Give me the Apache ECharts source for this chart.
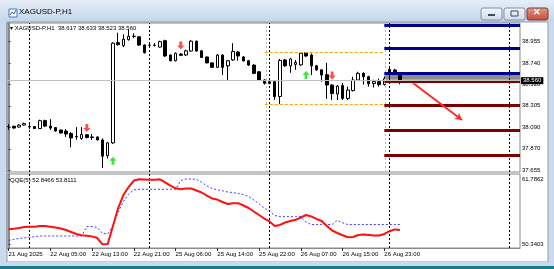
<!DOCTYPE html>
<html><head><meta charset="utf-8">
<script src="https://cdn.jsdelivr.net/npm/echarts@6/dist/echarts.min.js"></script>
<style>html,body{margin:0;padding:0;background:#c9daee;}#c{width:554px;height:269px;}</style>
</head><body><div id="c"></div>
<script>
// ---- data ----
const timeLabels = ['21 Aug 2025','22 Aug 05:00','22 Aug 13:00','22 Aug 21:00','25 Aug 06:00','25 Aug 14:00','25 Aug 22:00','26 Aug 07:00','26 Aug 15:00','26 Aug 23:00'];
const timeLabelIdx = [0,8,16,24,32,40,48,56,64,72];
const priceTicks = [38.955,38.740,38.520,38.305,38.090,37.870,37.655];
const qqeTicks = [61.7862,50.3403];

const opens  = [38.095,38.098,38.090,38.110,38.095,38.095,38.075,38.155,38.100,38.085,38.060,38.050,38.025,37.990,37.975,38.012,37.990,37.990,37.960,37.800,37.930,38.945,38.915,38.975,39.010,39.004,38.921,38.920,38.918,38.900,38.965,38.820,38.762,38.830,38.820,38.860,38.960,38.862,38.800,38.740,38.695,38.820,38.710,38.770,38.850,38.800,38.762,38.718,38.650,38.566,38.530,38.550,38.400,38.770,38.710,38.725,38.720,38.845,38.820,38.710,38.670,38.620,38.516,38.425,38.510,38.380,38.460,38.566,38.634,38.600,38.530,38.550,38.520,38.635,38.668,38.617];
const highs  = [38.120,38.105,38.120,38.135,38.120,38.100,38.165,38.165,38.170,38.090,38.065,38.070,38.040,38.090,38.090,38.020,38.020,37.995,37.975,37.940,38.950,39.046,39.030,39.080,39.040,39.010,38.930,38.930,38.940,38.965,38.975,38.825,38.845,38.840,38.875,38.970,38.965,38.870,38.805,38.745,38.830,38.825,38.770,38.940,38.860,38.810,38.770,38.725,38.655,38.575,38.560,38.560,38.780,38.780,38.790,38.770,38.850,38.850,38.835,38.720,38.675,38.740,38.525,38.516,38.535,38.500,38.600,38.650,38.645,38.610,38.570,38.580,38.600,38.690,38.680,38.633];
const lows   = [38.062,38.075,38.085,38.105,38.070,38.070,38.070,38.090,38.060,38.045,38.025,37.990,37.885,37.960,37.960,37.975,37.960,37.955,37.675,37.770,37.920,38.915,38.900,38.965,38.990,38.910,38.835,38.910,38.905,38.895,38.800,38.755,38.755,38.810,38.810,38.855,38.855,38.790,38.735,38.690,38.690,38.617,38.566,38.760,38.762,38.755,38.710,38.625,38.560,38.520,38.525,38.364,38.324,38.700,38.640,38.670,38.710,38.800,38.617,38.660,38.550,38.375,38.364,38.364,38.364,38.364,38.450,38.560,38.520,38.500,38.490,38.500,38.510,38.560,38.620,38.523];
const closes = [38.093,38.080,38.110,38.125,38.092,38.075,38.155,38.100,38.080,38.050,38.030,38.020,37.980,37.995,38.015,37.985,37.985,37.960,37.795,37.930,38.940,38.925,38.980,39.010,39.008,38.921,38.843,38.918,38.921,38.955,38.810,38.762,38.837,38.817,38.862,38.960,38.860,38.795,38.740,38.695,38.820,38.695,38.762,38.856,38.810,38.760,38.718,38.634,38.566,38.533,38.550,38.398,38.765,38.710,38.780,38.745,38.838,38.810,38.710,38.670,38.617,38.516,38.430,38.505,38.380,38.465,38.566,38.634,38.600,38.530,38.550,38.520,38.580,38.675,38.640,38.560];

const qqeMain  = [52.97,53.07,53.20,53.37,53.41,53.41,53.55,53.55,53.43,53.29,53.11,52.85,52.50,52.15,51.94,51.85,51.73,51.44,50.3403,50.40,53.55,56.70,58.98,60.38,61.52,61.73,61.70,61.65,61.65,61.73,61.21,60.63,60.16,59.98,60.12,60.12,59.77,59.42,58.89,58.37,58.18,57.75,57.40,57.53,57.55,57.14,56.70,56.09,55.48,54.86,54.34,53.55,53.73,54.16,54.42,54.63,55.04,55.48,55.22,54.78,54.42,53.55,52.76,52.32,51.92,51.57,51.62,51.97,52.06,51.97,51.88,51.88,52.15,52.64,52.95,52.8466];
const qqeSignal = [51.04,51.20,51.36,51.46,51.57,51.67,51.80,51.80,51.80,51.80,51.80,51.80,51.80,51.80,51.80,53.46,53.46,53.29,52.25,52.15,53.55,56.00,57.81,59.16,59.86,59.98,59.98,59.98,59.98,59.98,59.98,59.98,59.98,61.52,61.7862,61.79,61.73,61.21,60.56,60.12,59.89,59.73,59.51,59.40,59.25,59.07,58.72,58.10,57.44,56.70,56.12,55.39,55.18,55.18,55.18,55.18,55.18,54.25,53.81,53.81,53.81,53.81,53.81,54.55,54.10,53.81,53.81,53.81,53.81,53.81,53.81,53.81,53.81,53.81,53.81,53.8111];

const daySeparators = [4,27,50,73,96];
const sessionMarks = [49.3,72.1];
const sellSignals = [[15,38.080],[33,38.917],[62,38.612]];
const buySignals  = [[20,37.750],[57,38.617]];
const resistanceLevels = [39.124,38.885,38.640];
const supportLevels = [38.550,38.310,38.058,37.800];
const levelSpan = [72,98];
const zone = [38.617,38.570];
const rangeLevels = [38.852,38.320];
const rangeSpan = [49.1,72];
const projection = [[77.5,38.536],[86.9,38.161]];
const bidPrice = 38.560;
const headerText = 'XAGUSD-P,H1  38.617 38.633 38.523 38.560';
const qqeHeader = 'QQE(5) 52.8466 53.8111';
const windowTitle = 'XAGUSD-P,H1';

// ---- build ----
const candles = opens.map((o,i)=>[i,o,closes[i],lows[i],highs[i]]);
const FONT = 'Liberation Sans';
const chart = echarts.init(document.getElementById('c'), null, {renderer:'canvas'});
const xMin = -0.3, xMax = 98;

const levelLines = [];
resistanceLevels.forEach(p=>levelLines.push([{coord:[levelSpan[0],p],lineStyle:{color:'#000090',width:3,type:'solid'}},{coord:[levelSpan[1],p]}]));
supportLevels.forEach(p=>levelLines.push([{coord:[levelSpan[0],p],lineStyle:{color:'#7d0000',width:3,type:'solid'}},{coord:[levelSpan[1],p]}]));
rangeLevels.forEach(p=>levelLines.push([{coord:[rangeSpan[0],p],lineStyle:{color:'#ffa500',width:1,type:[3,2]}},{coord:[rangeSpan[1],p]}]));

const option = {
  animation:false,
  backgroundColor:'transparent',
  textStyle:{fontFamily:FONT},
  graphic:[
    {type:'rect',z:-100,shape:{x:0,y:0,width:554,height:22},style:{fill:new echarts.graphic.LinearGradient(0,0,0,1,[{offset:0,color:'#e6eef8'},{offset:1,color:'#c4d6eb'}])}},
    {type:'rect',z:-100,shape:{x:7,y:22,width:541,height:240},style:{fill:'#ffffff',stroke:'#8c9cb0',lineWidth:1}},
    {type:'rect',z:-100,shape:{x:0,y:262,width:554,height:7},style:{fill:'#c9daee'}},
    {type:'rect',z:-100,shape:{x:0,y:266,width:554,height:3},style:{fill:'#1b7a8c'}},
    {type:'rect',z:-100,shape:{x:9,y:9,width:8,height:8},style:{fill:'#ffffff',stroke:'#4a78b0',lineWidth:1}},
    {type:'polyline',z:-99,shape:{points:[[10,15],[12,12],[14,14],[16,10]]},style:{stroke:'#2a60c0',lineWidth:1,fill:null}},
    {type:'text',z:-99,left:19,top:8,style:{text:windowTitle,font:'8px '+FONT,fill:'#000'}},
    {type:'rect',z:-99,shape:{x:481,y:8,width:21,height:12,r:2},style:{fill:new echarts.graphic.LinearGradient(0,0,0,1,[{offset:0,color:'#f2f6fb'},{offset:1,color:'#cfdbea'}]),stroke:'#7f8fa6',lineWidth:1}},
    {type:'rect',z:-98,shape:{x:488,y:14,width:7,height:2},style:{fill:'#3a4a60'}},
    {type:'rect',z:-99,shape:{x:504,y:8,width:21,height:12,r:2},style:{fill:new echarts.graphic.LinearGradient(0,0,0,1,[{offset:0,color:'#f2f6fb'},{offset:1,color:'#cfdbea'}]),stroke:'#7f8fa6',lineWidth:1}},
    {type:'rect',z:-98,shape:{x:511,y:11,width:7,height:5},style:{fill:'none',stroke:'#3a4a60',lineWidth:1}},
    {type:'rect',z:-99,shape:{x:527,y:8,width:21,height:12,r:2},style:{fill:new echarts.graphic.LinearGradient(0,0,0,1,[{offset:0,color:'#e59a8a'},{offset:1,color:'#c24a36'}]),stroke:'#7a3a30',lineWidth:1}},
    {type:'text',z:-98,left:533,top:8,style:{text:'✕',font:'bold 9px '+FONT,fill:'#fff'}},
    {type:'text',left:10,top:25,style:{text:'▾ '+headerText,font:'6px '+FONT,fill:'#000'}},
    {type:'text',left:10,top:177,style:{text:qqeHeader,font:'6px '+FONT,fill:'#000'}}
  ],
  grid:[
    {left:7,top:23,width:513,height:149,show:true,borderColor:'#8a8a8a',borderWidth:1,backgroundColor:'transparent'},
    {left:7,top:174,width:513,height:74,show:true,borderColor:'#8a8a8a',borderWidth:1,backgroundColor:'transparent'}
  ],
  xAxis:[
    {type:'value',gridIndex:0,min:xMin,max:xMax,axisLine:{show:false},axisTick:{show:false},axisLabel:{show:false},splitLine:{show:false}},
    {type:'value',gridIndex:1,min:xMin,max:xMax,axisLine:{show:true,lineStyle:{color:'#8a8a8a'}},
     axisTick:{show:true,customValues:timeLabelIdx,length:3,lineStyle:{color:'#333'}},
     axisLabel:{show:true,customValues:timeLabelIdx,fontSize:6,color:'#000',align:'left',margin:3,
       formatter:v=>{const k=timeLabelIdx.indexOf(Math.round(v));return k>=0?timeLabels[k]:'';}},
     splitLine:{show:false}}
  ],
  yAxis:[
    {type:'value',gridIndex:0,position:'right',min:37.635,max:39.144,axisLine:{show:true,lineStyle:{color:'#8a8a8a',width:2}},
     axisTick:{show:true,customValues:priceTicks,length:2,lineStyle:{color:'#333'}},
     axisLabel:{show:true,customValues:priceTicks,fontSize:6,color:'#000',margin:2,formatter:v=>v.toFixed(3)},
     splitLine:{show:false}},
    {type:'value',gridIndex:1,position:'right',min:49.692,max:62.663,axisLine:{show:true,lineStyle:{color:'#8a8a8a',width:2}},
     axisTick:{show:true,customValues:qqeTicks,length:2,lineStyle:{color:'#333'}},
     axisLabel:{show:true,customValues:qqeTicks,fontSize:6,color:'#000',margin:2,formatter:v=>v.toFixed(4)},
     splitLine:{show:false}}
  ],
  series:[
    {type:'line',xAxisIndex:0,yAxisIndex:0,data:[],silent:true,
     markLine:{silent:true,symbol:'none',label:{show:false},
       data:daySeparators.map(v=>({xAxis:v,lineStyle:{color:'#000',type:[2,2],width:1}}))
         .concat(sessionMarks.map(v=>({xAxis:v,lineStyle:{color:'#b8b8b8',type:[2,2],width:1}})))}},
    {type:'line',xAxisIndex:0,yAxisIndex:0,data:[],silent:true,z:3,
     markArea:{silent:true,itemStyle:{color:'#8c8c8c'},data:[[{coord:[levelSpan[0],zone[0]]},{coord:[levelSpan[1],zone[1]]}]]}},
    {type:'candlestick',xAxisIndex:0,yAxisIndex:0,data:candles,encode:{x:0,y:[1,2,3,4]},barWidth:3,z:4,
     itemStyle:{color:'#ffffff',color0:'#000000',borderColor:'#000000',borderColor0:'#000000',borderWidth:1}},
    {type:'line',xAxisIndex:0,yAxisIndex:0,data:[],silent:true,z:5,
     markLine:{silent:true,symbol:'none',label:{show:false},lineStyle:{type:'solid'},data:levelLines}},
    {type:'line',xAxisIndex:0,yAxisIndex:0,data:[],silent:true,z:6,
     markLine:{silent:true,symbol:'none',
       data:[{yAxis:bidPrice,lineStyle:{color:'#c0c0c0',type:'solid',width:1},
         label:{show:true,position:'end',distance:1,formatter:bidPrice.toFixed(3),color:'#fff',backgroundColor:'#000',fontSize:6,padding:[1,2,0,2]}}]}},
    {type:'line',xAxisIndex:0,yAxisIndex:0,data:[],silent:true,z:7,
     markLine:{silent:true,symbol:['none','arrow'],symbolSize:[6,7],label:{show:false},
       data:[[{coord:projection[0]},{coord:projection[1]}]],lineStyle:{color:'#ff2a2a',width:2,type:'solid'}}},
    {type:'scatter',xAxisIndex:0,yAxisIndex:0,data:sellSignals,z:8,
     symbol:'path://M3,0 L7,0 L7,5 L10,5 L5,10 L0,5 L3,5 Z',symbolSize:[7,8],itemStyle:{color:'#ff2020'}},
    {type:'scatter',xAxisIndex:0,yAxisIndex:0,data:buySignals,z:8,
     symbol:'path://M5,0 L10,5 L7,5 L7,10 L3,10 L3,5 L0,5 Z',symbolSize:[7,8],itemStyle:{color:'#10e010'}},
    {type:'line',xAxisIndex:1,yAxisIndex:1,data:[],silent:true,
     markLine:{silent:true,symbol:'none',label:{show:false},
       data:daySeparators.map(v=>({xAxis:v,lineStyle:{color:'#000',type:[2,2],width:1}}))}},
    {type:'line',xAxisIndex:1,yAxisIndex:1,data:qqeSignal.map((v,i)=>[i,v]),showSymbol:false,z:4,
     lineStyle:{color:'#3c3cff',width:1,type:[2,2]}},
    {type:'line',xAxisIndex:1,yAxisIndex:1,data:qqeMain.map((v,i)=>[i,v]),showSymbol:false,z:5,
     lineStyle:{color:'#ff1010',width:2}}
  ]
};
chart.setOption(option);
</script></body></html>
